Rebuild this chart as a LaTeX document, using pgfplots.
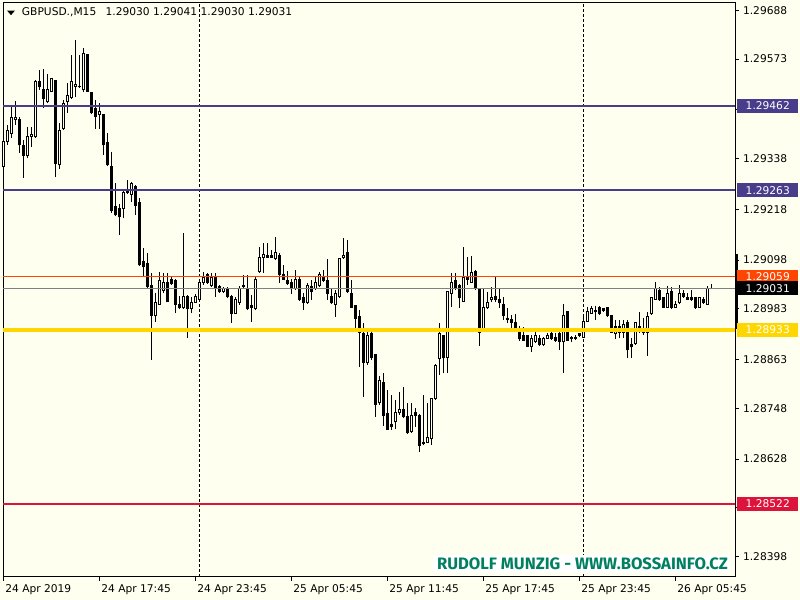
\documentclass[border=0pt]{standalone}
\usepackage{graphicx}
\usepackage{pgfplots}
\pgfplotsset{compat=1.18}
\usepackage{pgfplotstable}
\usepackage{fontspec}
\setmainfont{DejaVu Sans}
\newfontfamily\wmfont{Fira Sans}
\definecolor{bg}{RGB}{255,255,240}
\definecolor{slate}{RGB}{72,61,139}
\definecolor{ored}{RGB}{255,69,0}
\definecolor{gold}{RGB}{255,215,0}
\definecolor{crim}{RGB}{220,20,60}
\definecolor{wm}{RGB}{0,128,96}
\definecolor{bidgray}{RGB}{128,128,128}

\pgfplotstableread{
i O H L C
0 1.29320 1.29386 1.29318 1.29377
1 1.29379 1.29417 1.29370 1.29403
2 1.29398 1.29460 1.29386 1.29436
3 1.29431 1.29474 1.29417 1.29436
4 1.29429 1.29436 1.29351 1.29370
5 1.29368 1.29382 1.29292 1.29346
6 1.29344 1.29413 1.29339 1.29389
7 1.29391 1.29413 1.29365 1.29394
8 1.29389 1.29523 1.29386 1.29519
9 1.29521 1.29547 1.29500 1.29507
10 1.29502 1.29549 1.29457 1.29479
11 1.29472 1.29538 1.29469 1.29500
12 1.29497 1.29528 1.29495 1.29526
13 1.29523 1.29523 1.29294 1.29327
14 1.29323 1.29422 1.29313 1.29403
15 1.29408 1.29476 1.29405 1.29467
16 1.29472 1.29516 1.29446 1.29486
17 1.29481 1.29583 1.29479 1.29519
18 1.29509 1.29618 1.29483 1.29512
19 1.29509 1.29583 1.29505 1.29507
20 1.29500 1.29599 1.29495 1.29587
21 1.29583 1.29585 1.29495 1.29497
22 1.29493 1.29495 1.29443 1.29446
23 1.29457 1.29476 1.29408 1.29438
24 1.29443 1.29469 1.29408 1.29448
25 1.29441 1.29443 1.29346 1.29370
26 1.29375 1.29398 1.29320 1.29323
27 1.29320 1.29353 1.29209 1.29216
28 1.29224 1.29280 1.29202 1.29205
29 1.29221 1.29231 1.29157 1.29200
30 1.29221 1.29264 1.29198 1.29257
31 1.29261 1.29287 1.29254 1.29257
32 1.29254 1.29282 1.29235 1.29280
33 1.29273 1.29275 1.29205 1.29228
34 1.29233 1.29245 1.29084 1.29087
35 1.29094 1.29127 1.29058 1.29082
36 1.29089 1.29115 1.29032 1.29035
37 1.29037 1.29068 1.28862 1.28966
38 1.28966 1.29020 1.28952 1.28997
39 1.28994 1.29070 1.28992 1.29049
40 1.29027 1.29068 1.29020 1.29046
41 1.29046 1.29068 1.28999 1.29001
42 1.29053 1.29061 1.29039 1.29042
43 1.29049 1.29053 1.28973 1.28994
44 1.28994 1.29013 1.28983 1.28985
45 1.28985 1.29162 1.28983 1.29013
46 1.29013 1.29016 1.28914 1.28983
47 1.28983 1.29011 1.28973 1.28999
48 1.28999 1.29018 1.28997 1.29013
49 1.29006 1.29051 1.29004 1.29046
50 1.29044 1.29070 1.29039 1.29058
51 1.29063 1.29068 1.29042 1.29044
52 1.29037 1.29068 1.29035 1.29056
53 1.29058 1.29068 1.29011 1.29032
54 1.29035 1.29039 1.29021 1.29023
55 1.29023 1.29035 1.29020 1.29032
56 1.29030 1.29035 1.29009 1.29011
57 1.29011 1.29016 1.28950 1.28973
58 1.28973 1.29011 1.28971 1.29004
59 1.28999 1.29037 1.28992 1.29032
60 1.29037 1.29063 1.29032 1.29036
61 1.29032 1.29063 1.28980 1.28983
62 1.28990 1.29016 1.28952 1.28987
63 1.28983 1.29058 1.28980 1.29053
64 1.29070 1.29129 1.29068 1.29105
65 1.29103 1.29138 1.29068 1.29112
66 1.29110 1.29138 1.29103 1.29105
67 1.29110 1.29122 1.29103 1.29105
68 1.29101 1.29153 1.29098 1.29115
69 1.29108 1.29115 1.29044 1.29063
70 1.29065 1.29087 1.29051 1.29053
71 1.29049 1.29072 1.29039 1.29042
72 1.29044 1.29053 1.29018 1.29030
73 1.29030 1.29075 1.29027 1.29053
74 1.29053 1.29061 1.29001 1.29004
75 1.29009 1.29020 1.28980 1.28997
76 1.28997 1.29044 1.28994 1.29039
77 1.29035 1.29051 1.29004 1.29023
78 1.29030 1.29061 1.29027 1.29044
79 1.29037 1.29070 1.29035 1.29063
80 1.29058 1.29075 1.29046 1.29051
81 1.29049 1.29101 1.29004 1.29020
82 1.29013 1.29032 1.28994 1.28997
83 1.28994 1.29027 1.28964 1.29018
84 1.29011 1.29103 1.29009 1.29101
85 1.29103 1.29150 1.29101 1.29110
86 1.29115 1.29146 1.29020 1.29023
87 1.29020 1.29051 1.28985 1.28987
88 1.28990 1.28992 1.28928 1.28961
89 1.28964 1.28980 1.28846 1.28928
90 1.28924 1.28950 1.28775 1.28857
91 1.28855 1.28933 1.28850 1.28919
92 1.28924 1.28933 1.28862 1.28869
93 1.28874 1.28876 1.28728 1.28758
94 1.28761 1.28824 1.28756 1.28813
95 1.28808 1.28831 1.28706 1.28730
96 1.28735 1.28791 1.28697 1.28699
97 1.28709 1.28779 1.28697 1.28704
98 1.28716 1.28768 1.28699 1.28739
99 1.28737 1.28787 1.28732 1.28744
100 1.28746 1.28798 1.28725 1.28728
101 1.28728 1.28761 1.28687 1.28690
102 1.28692 1.28761 1.28690 1.28732
103 1.28737 1.28749 1.28704 1.28730
104 1.28732 1.28735 1.28645 1.28661
105 1.28668 1.28779 1.28661 1.28664
106 1.28668 1.28761 1.28666 1.28678
107 1.28676 1.28772 1.28661 1.28770
108 1.28770 1.28852 1.28768 1.28850
109 1.28865 1.28950 1.28827 1.28924
110 1.28919 1.28921 1.28831 1.28867
111 1.28869 1.29025 1.28831 1.29023
112 1.29020 1.29068 1.28987 1.29044
113 1.29051 1.29068 1.29027 1.29032
114 1.29039 1.29041 1.28985 1.29009
115 1.29001 1.29129 1.28999 1.29058
116 1.29056 1.29105 1.29039 1.29053
117 1.29046 1.29108 1.29044 1.29068
118 1.29072 1.29075 1.29027 1.29032
119 1.29030 1.29032 1.28895 1.28928
120 1.28933 1.29032 1.28931 1.28987
121 1.28985 1.29023 1.28983 1.28999
122 1.29004 1.29035 1.28999 1.29009
123 1.29011 1.29058 1.28999 1.29006
124 1.29004 1.29032 1.28985 1.28997
125 1.28994 1.29011 1.28957 1.28966
126 1.28961 1.28985 1.28950 1.28957
127 1.28957 1.28968 1.28933 1.28950
128 1.28950 1.28971 1.28931 1.28935
129 1.28933 1.28942 1.28907 1.28912
130 1.28919 1.28940 1.28907 1.28909
131 1.28919 1.28921 1.28893 1.28895
132 1.28893 1.28921 1.28881 1.28914
133 1.28905 1.28938 1.28902 1.28919
134 1.28914 1.28921 1.28895 1.28898
135 1.28898 1.28916 1.28895 1.28912
136 1.28914 1.28926 1.28912 1.28921
137 1.28924 1.28933 1.28909 1.28912
138 1.28916 1.28926 1.28905 1.28907
139 1.28924 1.28928 1.28886 1.28905
140 1.28905 1.28994 1.28831 1.28968
141 1.28976 1.28978 1.28907 1.28909
142 1.28916 1.28919 1.28905 1.28912
143 1.28916 1.28921 1.28909 1.28914
144 1.28924 1.28926 1.28916 1.28919
145 1.28916 1.28968 1.28914 1.28952
146 1.28954 1.28987 1.28952 1.28976
147 1.28973 1.28990 1.28971 1.28983
148 1.28980 1.28990 1.28957 1.28976
149 1.28985 1.28990 1.28968 1.28971
150 1.28983 1.28985 1.28976 1.28978
151 1.28985 1.28987 1.28964 1.28966
152 1.28966 1.28968 1.28926 1.28928
153 1.28924 1.28957 1.28912 1.28940
154 1.28940 1.28957 1.28914 1.28928
155 1.28928 1.28957 1.28914 1.28945
156 1.28950 1.28957 1.28867 1.28886
157 1.28898 1.28914 1.28867 1.28893
158 1.28900 1.28952 1.28898 1.28950
159 1.28940 1.28976 1.28926 1.28938
160 1.28935 1.28961 1.28921 1.28926
161 1.28928 1.28976 1.28872 1.28964
162 1.28971 1.29011 1.28968 1.29009
163 1.29006 1.29046 1.29004 1.29030
164 1.29027 1.29035 1.29001 1.29004
165 1.29009 1.29011 1.28985 1.28987
166 1.28987 1.29037 1.28985 1.29020
167 1.29023 1.29035 1.28983 1.28985
168 1.28987 1.29001 1.28985 1.28994
169 1.28997 1.29039 1.28994 1.29018
170 1.29020 1.29027 1.29009 1.29011
171 1.29009 1.29020 1.29004 1.29006
172 1.29009 1.29027 1.29001 1.29004
173 1.29009 1.29011 1.28983 1.28985
174 1.28987 1.29011 1.28985 1.29009
175 1.29004 1.29011 1.28994 1.28997
176 1.28994 1.29037 1.28992 1.29032
177 1.29030 1.29041 1.29030 1.29031
}\candles

\begin{document}
\begin{tikzpicture}
\fill[bg] (0,0) rectangle (600pt,450pt);
\useasboundingbox (0,0) rectangle (600pt,450pt);
\begin{axis}[
  at={(2.25pt,17.25pt)}, anchor=south west,
  width=549pt, height=430.5pt, scale only axis,
  xmin=0, xmax=183, ymin=1.283495, ymax=1.297053,
  clip=false,
  axis line style={black, line width=0.75pt},
  xtick={0,24,48,72,96,120,144,168},
  xticklabels={24 Apr 2019,24 Apr 17:45,24 Apr 23:45,25 Apr 05:45,25 Apr 11:45,25 Apr 17:45,25 Apr 23:45,26 Apr 05:45},
  ytick={1.28398,1.28513,1.28628,1.28748,1.28863,1.28983,1.29098,1.29218,1.29338,1.29453,1.29573,1.29688},
  yticklabels={1.28398,,1.28628,1.28748,1.28863,1.28983,1.29098,1.29218,1.29338,,1.29573,1.29688},
  xtick pos=left, ytick pos=right, yticklabel pos=right,
  tick align=outside, major tick length=3pt,
  tick style={black, line width=0.75pt},
  ticklabel style={font=\fontsize{8pt}{9pt}\selectfont, text=black},
  x tick label style={anchor=north west, xshift=-1.8pt, yshift=0.5pt},
  y tick label style={anchor=west, xshift=-0.5pt},
]
% period separators
\addplot[black, line width=0.75pt, dash pattern=on 2.25pt off 1.5pt, forget plot] coordinates {(49,1.283495) (49,1.297053)};
\addplot[black, line width=0.75pt, dash pattern=on 2.25pt off 1.5pt, forget plot] coordinates {(145,1.283495) (145,1.297053)};
% wicks
\addplot[draw=none, forget plot, error bars/.cd, y dir=plus, y explicit, error mark=none,
  error bar style={draw=black, line width=0.75pt, solid}]
  table[x=i, y=L, y error plus expr={\thisrow{H}-\thisrow{L}}] {\candles};
% bodies
\addplot[draw=none, forget plot, error bars/.cd, y dir=plus, y explicit, error mark=none,
  error bar style={draw=black, line width=2.25pt, solid, line cap=butt}]
  table[x=i, y expr={min(\thisrow{O},\thisrow{C})-0.0000118}, y error plus expr={abs(\thisrow{C}-\thisrow{O})+0.0000236}] {\candles};
% hollow interiors of rising candles
\addplot[draw=none, forget plot, error bars/.cd, y dir=plus, y explicit, error mark=none,
  error bar style={draw=bg, line width=0.75pt, solid, line cap=butt}]
  table[x=i, y expr={\thisrow{O}+0.0000118}, y error plus expr={max(0,\thisrow{C}-\thisrow{O}-0.0000236)}] {\candles};
% horizontal levels
\addplot[slate, line width=1.5pt, forget plot] coordinates {(0,1.29462) (183,1.29462)};
\addplot[slate, line width=1.5pt, forget plot] coordinates {(0,1.29263) (183,1.29263)};
\addplot[bidgray, line width=0.75pt, forget plot] coordinates {(0,1.29031) (183,1.29031)};
\addplot[ored, line width=0.75pt, forget plot] coordinates {(0,1.29059) (183,1.29059)};
\addplot[gold, line width=3pt, forget plot] coordinates {(0,1.28933) (183,1.28933)};
\addplot[crim, line width=1.5pt, forget plot] coordinates {(0,1.28522) (183,1.28522)};
% range bar at right edge
\addplot[black, line width=2.25pt, forget plot] coordinates {(183.4,1.29112) (183.4,1.28935)};
\coordinate (l1) at (axis cs:183,1.29462);
\coordinate (l2) at (axis cs:183,1.29263);
\coordinate (l3) at (axis cs:183,1.29059);
\coordinate (l4) at (axis cs:183,1.29031);
\coordinate (l5) at (axis cs:183,1.28933);
\coordinate (l6) at (axis cs:183,1.28522);
\end{axis}
\tikzset{lbl/.style={anchor=west, xshift=1.5pt, inner sep=0pt, minimum width=45.75pt, minimum height=10.5pt, text=white, font=\fontsize{8pt}{9pt}\selectfont}}
\node[lbl, fill=slate] at (l1) {1.29462};
\node[lbl, fill=slate] at (l2) {1.29263};
\node[lbl, fill=ored] at (l3) {1.29059};
\node[lbl, fill=black] at (l4) {1.29031};
\node[lbl, fill=gold] at (l5) {1.28933};
\node[lbl, fill=crim] at (l6) {1.28522};
% title
\fill[black] (5.25pt,442.1pt) -- (11.25pt,442.1pt) -- (8.25pt,438.6pt) -- cycle;
\node[anchor=west, inner sep=0pt, font=\fontsize{8pt}{9pt}\selectfont] at (16.25pt,441pt) {GBPUSD.,M15\hspace{7pt}1.29030 1.29041 1.29030 1.29031};
% watermark
\node[fill=white, inner sep=0pt, minimum width=222.75pt, minimum height=13.5pt] at (436.1pt,27pt) {};
\node[text=wm, inner sep=0pt] at (436.9pt,27pt) {\resizebox{218pt}{8.8pt}{\wmfont\bfseries RUDOLF MUNZIG - WWW.BOSSAINFO.CZ}};
\end{tikzpicture}
\end{document}
